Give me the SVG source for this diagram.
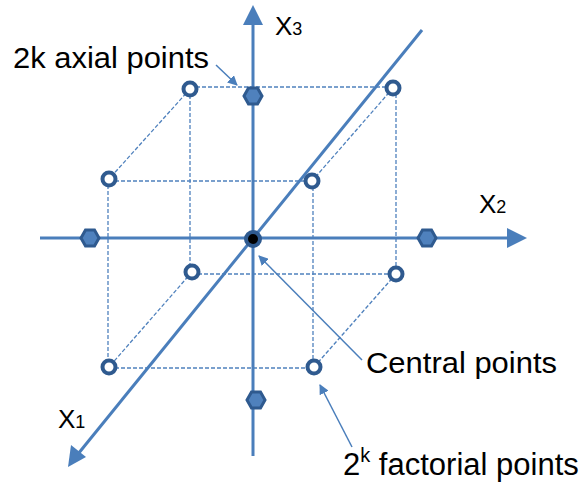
<svg xmlns="http://www.w3.org/2000/svg" width="587" height="482" viewBox="0 0 587 482">
<style>
.dash{stroke:#4F81BD;stroke-width:1.3;stroke-dasharray:4 2;fill:none}
.axis{stroke:#4A7EBB;stroke-width:3;fill:none}
.lead{stroke:#4A7EBB;stroke-width:1.5;fill:none}
.fp{fill:#fff;stroke:#2F5A8F;stroke-width:4}
.hex{fill:#4F81BD;stroke:#2F5A8F;stroke-width:3}
.lbl{font-family:"Liberation Sans",Arial,sans-serif;fill:#000}
</style>
<defs>
<marker id="sm" markerWidth="10" markerHeight="10" refX="9" refY="5" orient="auto" markerUnits="userSpaceOnUse"><path d="M0,0 L10,5 L0,10 z" fill="#4A7EBB"/></marker>
<polygon id="hx" points="-9,0 -4.5,-8 4.5,-8 9,0 4.5,8 -4.5,8"/>
</defs>
<g id="connectors">
<g id="cube-edges">
<line class="dash" x1="190" y1="87" x2="393" y2="87"/>
<line class="dash" x1="109" y1="181" x2="312" y2="181"/>
<line class="dash" x1="190" y1="89" x2="109" y2="179"/>
<line class="dash" x1="393" y1="88" x2="312" y2="181"/>
<line class="dash" x1="190" y1="89" x2="190" y2="272"/>
<line class="dash" x1="396" y1="88" x2="396" y2="274"/>
<line class="dash" x1="108" y1="179" x2="108" y2="367"/>
<line class="dash" x1="313" y1="181" x2="313" y2="367"/>
<line class="dash" x1="192" y1="274" x2="396" y2="274"/>
<line class="dash" x1="109" y1="368" x2="314" y2="368"/>
<line class="dash" x1="192" y1="272" x2="109" y2="367"/>
<line class="dash" x1="396" y1="274" x2="314" y2="367"/>
</g>
<g id="axes">
<line class="axis" x1="253" y1="456" x2="253" y2="22"/>
<polygon points="253,5 243,25 263,25" fill="#4A7EBB"/>
<line class="axis" x1="40" y1="238" x2="510" y2="238"/>
<polygon points="527,238 507,228 507,248" fill="#4A7EBB"/>
<line class="axis" x1="422" y1="30" x2="78" y2="454"/>
<polygon points="68,467 71,445 86,457" fill="#4A7EBB"/>
</g>
<g id="leaders">
<line class="lead" x1="216" y1="65" x2="237" y2="85" marker-end="url(#sm)"/>
<line class="lead" x1="362" y1="360" x2="259" y2="256" marker-end="url(#sm)"/>
<line class="lead" x1="352" y1="447" x2="320" y2="385" marker-end="url(#sm)"/>
</g>
</g>
<g id="factorial-points">
<circle class="fp" cx="190" cy="89" r="6.5"/>
<circle class="fp" cx="393" cy="88" r="6.5"/>
<circle class="fp" cx="109" cy="179" r="6.5"/>
<circle class="fp" cx="312" cy="181" r="6.5"/>
<circle class="fp" cx="192" cy="272" r="6.5"/>
<circle class="fp" cx="396" cy="274" r="6.5"/>
<circle class="fp" cx="109" cy="367" r="6.5"/>
<circle class="fp" cx="314" cy="367" r="6.5"/>
</g>
<g id="axial-points">
<use href="#hx" class="hex" x="253" y="96"/>
<use href="#hx" class="hex" x="90" y="238"/>
<use href="#hx" class="hex" x="427" y="238"/>
<use href="#hx" class="hex" x="256" y="400"/>
</g>
<g id="central-point">
<circle cx="253" cy="239" r="7" fill="#000" stroke="#2F5A8F" stroke-width="4"/>
</g>
<g id="labels">
<text class="lbl" x="275" y="35" font-size="26">X<tspan font-size="18">3</tspan></text>
<text class="lbl" x="479" y="213" font-size="26">X<tspan font-size="18">2</tspan></text>
<text class="lbl" x="58" y="428" font-size="26">X<tspan font-size="18">1</tspan></text>
<text class="lbl" x="13" y="68" font-size="30" textLength="196" lengthAdjust="spacingAndGlyphs">2k axial points</text>
<text class="lbl" x="366" y="373" font-size="29" textLength="191" lengthAdjust="spacingAndGlyphs">Central points</text>
<text class="lbl" x="343" y="475" font-size="31">2<tspan font-size="20" dy="-13">k</tspan><tspan dy="13" font-size="31"> factorial points</tspan></text>
</g>
</svg>
